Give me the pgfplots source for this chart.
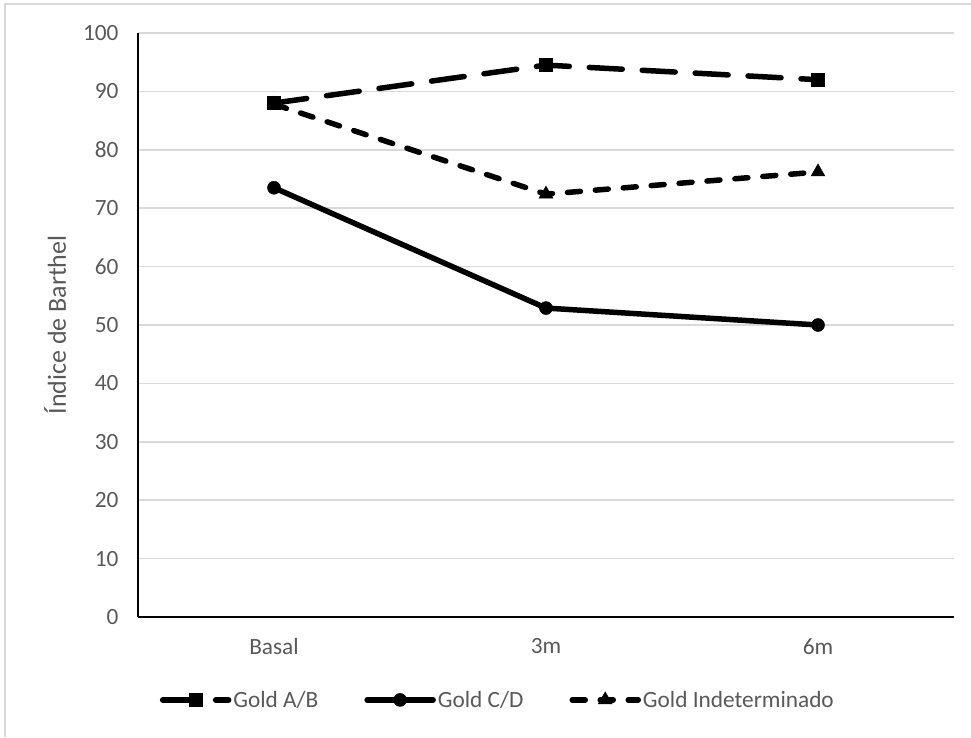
\documentclass[border=0pt]{standalone}
\usepackage{pgfplots}
\pgfplotsset{compat=1.18}
\usepackage{fontspec}
\setmainfont{Carlito}
\definecolor{txt}{HTML}{595959}
\definecolor{gridgray}{HTML}{D9D9D9}
\definecolor{framegray}{HTML}{D9D9D9}

\pgfplotstableread{
x  ab    cd    ind
0  88.0  73.5  87.8
1  94.5  52.9  72.4
2  92.0  50.0  76.2
}\barthel

\begin{document}
\begin{tikzpicture}
\path[use as bounding box] (0,0) rectangle (971pt,737pt);
\draw[framegray,line width=1.5pt] (5pt,0) -- (5pt,733pt) -- (971pt,733pt);
\begin{axis}[
  at={(138pt,120pt)}, anchor=south west,
  width=816pt, height=584pt, scale only axis,
  xmin=-0.5, xmax=2.5, ymin=0, ymax=100,
  xtick={0,1,2}, xticklabels={Basal,3m,6m},
  ytick={0,10,...,100},
  /pgf/number format/assume math mode=true,
  xmajorgrids=false, ymajorgrids=true,
  major grid style={gridgray,line width=1.5pt},
  major tick length=0pt,
  axis x line*=bottom, axis y line*=left,
  axis line style={black,line width=2pt,-},
  tick label style={txt,font=\fontsize{23.3}{28}\selectfont},
  yticklabel style={xshift=-16pt},
  xticklabel style={yshift=-18pt},
  ylabel={Índice de Barthel},
  ylabel style={txt,font=\fontsize{26}{31}\selectfont,yshift=10pt},
  legend columns=3,
  legend style={at={(0.441,-0.142)},anchor=center,draw=none,
    font=\fontsize{23.3}{28}\selectfont,text=txt,
    /tikz/every even column/.append style={column sep=44pt}},
  legend image code/.code={%
    \draw[#1,mark repeat=2,mark phase=2] plot coordinates {(0pt,0pt)(33pt,0pt)(66pt,0pt)};},
]
\addplot[black,line width=5.5pt,line cap=round,dash pattern=on 33pt off 20pt,
  mark=square*,mark size=6.5pt,mark options={solid,line width=0.5pt}]
  table[x=x,y=ab]{\barthel};
\addlegendentry{Gold A/B}
\addplot[black,line width=5.5pt,line cap=round,
  mark=*,mark size=6.5pt,mark options={solid,line width=0.5pt}]
  table[x=x,y=cd]{\barthel};
\addlegendentry{Gold C/D}
\addplot[black,line width=5.5pt,line cap=round,dash pattern=on 13pt off 15pt,
  mark=triangle*,mark size=8pt,mark options={solid,line width=0.5pt}]
  table[x=x,y=ind]{\barthel};
\addlegendentry{Gold Indeterminado}
\end{axis}
\end{tikzpicture}
\end{document}
